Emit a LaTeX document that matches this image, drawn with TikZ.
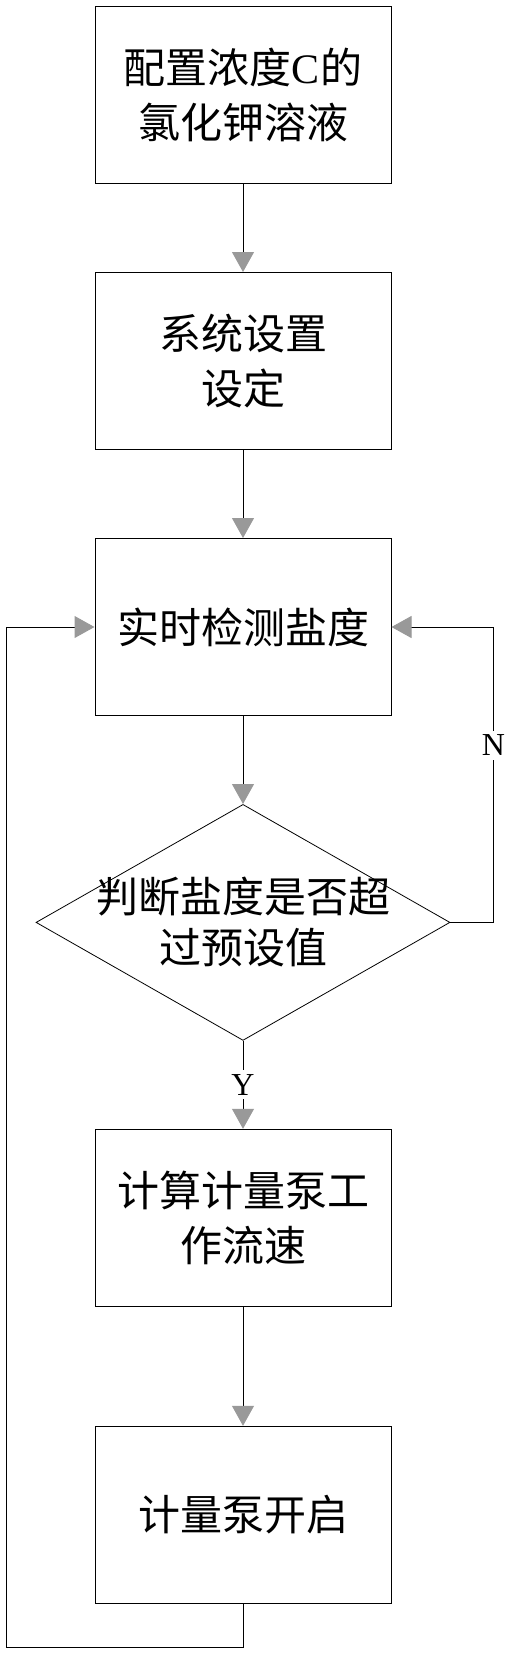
\documentclass[tikz,border=0pt]{standalone}
\usepackage{fontspec}
\setmainfont{Liberation Serif}
\newfontfamily\cjk{Noto Sans CJK SC}
\usetikzlibrary{arrows.meta,positioning,shapes.geometric}
\tikzset{
  box/.style={draw=black,line width=1pt,minimum width=296pt,minimum height=177pt,inner sep=0pt,align=center,font=\cjk\fontsize{42}{55}\selectfont},
  decision/.style={diamond,draw=black,line width=0.8pt,minimum width=414pt,minimum height=236pt,inner sep=0pt},
  txt/.style={align=center,font=\cjk\fontsize{42}{51}\selectfont},
  lbl/.style={fill=white,inner sep=4pt,font=\fontsize{32}{34}\selectfont},
  ar/.style={-{Triangle[length=20pt,width=22pt,color=gray!80]},draw=black,line width=1pt},
}

\begin{document}
\begin{tikzpicture}[node distance=88pt]
  \useasboundingbox (0,0) rectangle (516pt,-1658pt);
  \node[box] (prep) at (243pt,-95pt) {配置浓度{\rmfamily C}的\\氯化钾溶液};
  \node[box,below=of prep] (setup) {系统设置\\设定};
  \node[box,below=of setup] (detect) {实时检测盐度};
  \node[decision,below=of detect,label={[txt]center:{判断盐度是否超\\过预设值}}] (judge) {};
  \node[box,below=of judge] (calc) {计算计量泵工\\作流速};
  \node[box,below=119pt of calc] (pump) {计量泵开启};

  \draw[ar] (prep) -- (setup);
  \draw[ar] (setup) -- (detect);
  \draw[ar] (detect) -- (judge);
  \draw[ar] (judge) -- node[lbl]{Y} (calc);
  \draw[ar] (calc) -- (pump);
  % N: back to detection
  \draw[ar] (judge.east) -- ++(43pt,0) |- node[lbl,pos=0.3]{N} (detect.east);
  % loop after the pump is started
  \draw[ar] (pump.south) -- ++(0,-44pt) -| ([xshift=-88pt]detect.west) -- (detect.west);
\end{tikzpicture}
\end{document}
